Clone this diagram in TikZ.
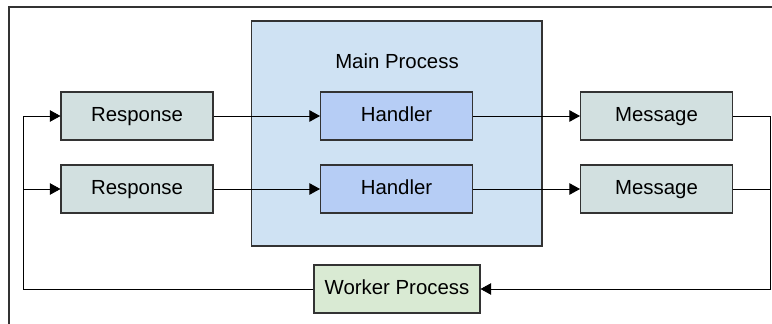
\documentclass[tikz,border=0pt]{standalone}
\usepackage{fontspec}
\setmainfont{Liberation Sans}
\usepackage{xcolor}
\usetikzlibrary{arrows.meta,positioning}

\definecolor{boxgray}{HTML}{D2E0E0}
\definecolor{mainblue}{HTML}{CFE2F3}
\definecolor{handblue}{HTML}{B6CDF5}
\definecolor{workgreen}{HTML}{D9EAD3}
\definecolor{edge}{HTML}{333333}

\begin{document}
\begin{tikzpicture}[x=0.02cm, y=-0.02cm,
  every node/.style={font=\fontsize{11.6}{13}\selectfont},
  blk/.style={draw=edge, line width=0.6pt, minimum width=3.04cm, minimum height=0.96cm, inner sep=0pt, text height=8pt, text depth=2pt},
  arr/.style={-{Triangle[length=6pt,width=6.5pt]}, line width=0.5pt}]
  \useasboundingbox (0,0) rectangle (772,324);
  % open frame
  \draw[edge, line width=0.6pt] (772,7) -- (9,7) -- (9,324);

  \node[draw=edge, line width=0.6pt, fill=mainblue, minimum width=5.82cm, minimum height=4.5cm] (main) at (396.5,133.5) {};
  \node (mainlbl) at (397,61) {Main Process};

  \node[blk,fill=boxgray]  (r1) at (137,116) {Response};
  \node[blk,fill=boxgray]  (r2) at (137,189) {Response};
  \node[blk,fill=handblue] (h1) at (396.5,116) {Handler};
  \node[blk,fill=handblue] (h2) at (396.5,189) {Handler};
  \node[blk,fill=boxgray]  (m1) at (656.5,116) {Message};
  \node[blk,fill=boxgray]  (m2) at (656.5,189) {Message};
  \node[blk,fill=workgreen,minimum width=3.32cm] (wp) at (397,289) {Worker Process};

  \coordinate (rtop) at (770,116);
  \coordinate (rmid) at (770,189);
  \coordinate (lbot) at (23,289);
  \coordinate (lmid) at (23,189);

  \draw[arr] (r1) -- (h1);
  \draw[arr] (r2) -- (h2);
  \draw[arr] (h1) -- (m1);
  \draw[arr] (h2) -- (m2);

  \draw[arr] (m1.east) -- (rtop) |- (wp.east);
  \draw[line width=0.5pt] (m2.east) -- (rmid);
  \draw[arr] (wp.west) -- (lbot) |- (r1.west);
  \draw[arr] (lmid) -- (r2.west);
\end{tikzpicture}
\end{document}
